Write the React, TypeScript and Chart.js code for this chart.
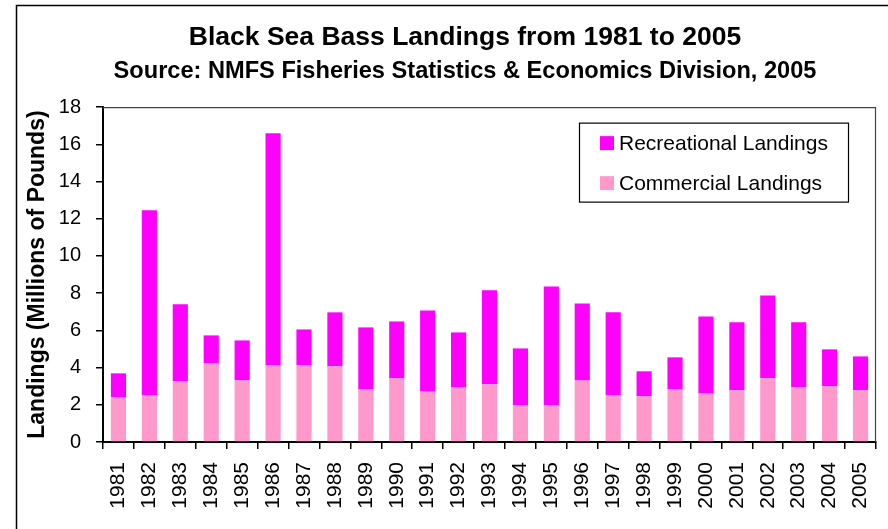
import { useEffect, useRef } from "react";
import { Chart, registerables } from "chart.js";

Chart.register(...registerables);

const years = [
  "1981", "1982", "1983", "1984", "1985", "1986", "1987", "1988", "1989", "1990",
  "1991", "1992", "1993", "1994", "1995", "1996", "1997", "1998", "1999", "2000",
  "2001", "2002", "2003", "2004", "2005",
];

const commercial = [
  2.40, 2.51, 3.26, 4.23, 3.31, 4.12, 4.12, 4.07, 2.83, 3.42,
  2.72, 2.94, 3.10, 1.97, 1.97, 3.31, 2.51, 2.45, 2.83, 2.61,
  2.78, 3.42, 2.94, 2.99, 2.78,
];

const recreational = [
  1.29, 9.94, 4.14, 1.50, 2.15, 12.47, 1.93, 2.90, 3.33, 3.06,
  4.35, 2.95, 5.05, 3.06, 6.39, 4.14, 4.46, 1.35, 1.72, 4.14,
  3.65, 4.46, 3.49, 1.99, 1.82,
];

const yTicks = [0, 2, 4, 6, 8, 10, 12, 14, 16, 18];

const titleText = "Black Sea Bass Landings from 1981 to 2005";
const subtitleText = "Source: NMFS Fisheries Statistics & Economics Division, 2005";
const yTitleText = "Landings (Millions of Pounds)";

const FONT = "'Liberation Sans', Arial, Helvetica, sans-serif";

const decorPlugin = {
  id: "decor",
  afterLayout(chart: any) {
    // center the titles on the outer frame rather than on the canvas
    chart.boxes.forEach((b: any) => {
      if (b.position === "top" && b.options && typeof b.options.text === "string") {
        b.left += 16;
        b.right += 16;
      }
    });
  },
  beforeDraw(chart: any) {
    const ctx = chart.ctx;
    ctx.save();
    ctx.fillStyle = "#ffffff";
    ctx.fillRect(0, 0, chart.width, chart.height);
    ctx.restore();
  },
  afterDraw(chart: any) {
    const ctx = chart.ctx;
    const a = chart.chartArea;
    ctx.save();
    // outer frame
    ctx.strokeStyle = "#000";
    ctx.lineWidth = 1.5;
    ctx.beginPath();
    ctx.moveTo(16.5, chart.height + 5);
    ctx.lineTo(16.5, 5.5);
    ctx.lineTo(chart.width + 5, 5.5);
    ctx.stroke();
    // plot area top/right border
    ctx.strokeStyle = "#444";
    ctx.lineWidth = 1.2;
    ctx.beginPath();
    ctx.moveTo(a.left, a.top + 0.5);
    ctx.lineTo(a.right - 0.5, a.top + 0.5);
    ctx.lineTo(a.right - 0.5, a.bottom);
    ctx.stroke();
    // legend
    const bx = a.right - 297;
    const by = a.top + 15.5;
    const bw = 269;
    const bh = 79;
    ctx.fillStyle = "#fff";
    ctx.fillRect(bx, by, bw, bh);
    ctx.strokeStyle = "#000";
    ctx.lineWidth = 1.2;
    ctx.strokeRect(bx + 0.5, by + 0.5, bw, bh);
    const ds = chart.data.datasets.slice().reverse();
    ctx.font = `21px ${FONT}`;
    ctx.textBaseline = "middle";
    ctx.textAlign = "left";
    ds.forEach((d: any, i: number) => {
      const cy = by + 20.5 + i * 40;
      ctx.fillStyle = d.backgroundColor;
      ctx.fillRect(bx + 21, cy - 7, 14, 14);
      ctx.fillStyle = "#000";
      ctx.fillText(d.label, bx + 40, cy + 1);
    });
    ctx.restore();
  },
};

export default function App() {
  const ref = useRef<HTMLCanvasElement | null>(null);

  useEffect(() => {
    if (!ref.current) return;
    const chart = new Chart(ref.current, {
      type: "bar",
      data: {
        labels: years,
        datasets: [
          {
            label: "Commercial Landings",
            data: commercial,
            backgroundColor: "#FF99CC",
            barPercentage: 0.49,
            categoryPercentage: 1,
          },
          {
            label: "Recreational Landings",
            data: recreational,
            backgroundColor: "#FF00FF",
            barPercentage: 0.49,
            categoryPercentage: 1,
          },
        ],
      },
      options: {
        animation: false,
        responsive: false,
        devicePixelRatio: 1,
        layout: { padding: { left: 22, right: 12, top: 0, bottom: 0 } },
        plugins: {
          legend: { display: false },
          tooltip: { enabled: false },
          title: {
            display: true,
            text: titleText,
            color: "#000",
            font: { family: FONT, size: 26.5, weight: "bold" },
            padding: { top: 22, bottom: 0 },
          },
          subtitle: {
            display: true,
            text: subtitleText,
            color: "#000",
            font: { family: FONT, size: 23.6, weight: "bold" },
            padding: { top: 4, bottom: 21 },
          },
        },
        scales: {
          x: {
            stacked: true,
            grid: {
              display: true,
              drawOnChartArea: false,
              drawTicks: true,
              tickLength: 7,
              color: "#000",
              lineWidth: 1.5,
              offset: true,
            },
            border: { display: true, color: "#000", width: 2 },
            ticks: {
              color: "#000",
              font: { family: FONT, size: 21 },
              minRotation: 90,
              maxRotation: 90,
              autoSkip: false,
              padding: 13,
            },
            afterFit: (s: any) => {
              s.height = 87;
              s.paddingLeft = 0;
              s.paddingRight = 0;
            },
          },
          y: {
            stacked: true,
            min: 0,
            max: 18,
            afterBuildTicks: (s: any) => {
              s.ticks = yTicks.map((v) => ({ value: v }));
            },
            grid: {
              display: true,
              drawOnChartArea: false,
              drawTicks: true,
              tickLength: 7,
              color: "#000",
              lineWidth: 1.5,
            },
            border: { display: true, color: "#000", width: 2 },
            ticks: {
              color: "#000",
              font: { family: FONT, size: 20 },
              padding: 15,
            },
            title: {
              display: true,
              text: yTitleText,
              color: "#000",
              font: { family: FONT, size: 23, weight: "bold" },
              padding: { top: 2, bottom: 0 },
            },
            afterFit: (s: any) => {
              s.width = 81;
            },
          },
        },
      },
      plugins: [decorPlugin],
    });
    return () => chart.destroy();
  }, []);

  return (
    <div style={{ position: "fixed", left: 0, top: 0, width: 888, height: 529, overflow: "hidden", background: "#fff" }}>
      <canvas ref={ref} width={888} height={529} style={{ display: "block", width: 888, height: 529 }} />
    </div>
  );
}
